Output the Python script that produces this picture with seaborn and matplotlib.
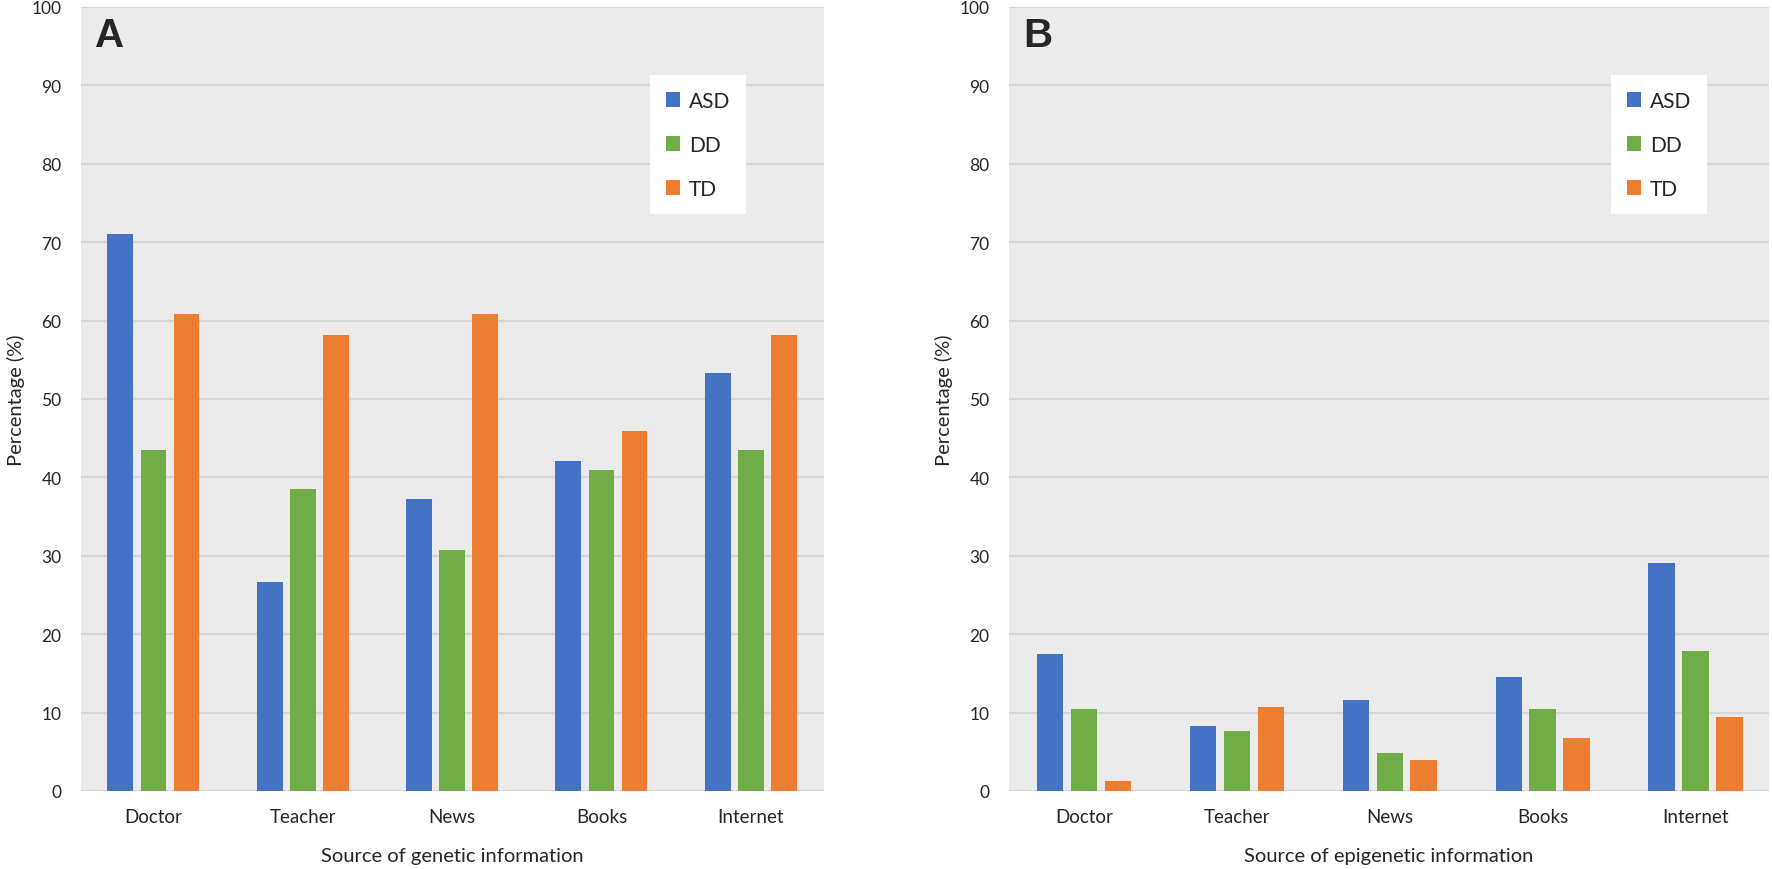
import pandas as pd
import matplotlib
matplotlib.use("Agg")
import matplotlib.pyplot as plt
import seaborn as sns

sources = ["Doctor", "Teacher", "News", "Books", "Internet"]
groups = ["ASD", "DD", "TD"]

# Panel A - genetic information (%)
genetic_asd = [71.0, 26.6, 37.3, 42.1, 53.3]
genetic_dd = [43.5, 38.5, 30.8, 40.9, 43.5]
genetic_td = [60.8, 58.1, 60.8, 45.9, 58.1]

# Panel B - epigenetic information (%)
epigen_asd = [17.5, 8.3, 11.6, 14.5, 29.1]
epigen_dd = [10.4, 7.7, 4.9, 10.4, 17.8]
epigen_td = [1.3, 10.7, 4.0, 6.8, 9.5]

colors = {"ASD": "#4472C4", "DD": "#70AD47", "TD": "#ED7D31"}


def to_long(asd, dd, td):
    rows = []
    for g, vals in zip(groups, [asd, dd, td]):
        for s, v in zip(sources, vals):
            rows.append({"source": s, "group": g, "pct": v})
    return pd.DataFrame(rows)


sns.set_theme(style="white")
plt.rcParams["font.family"] = ["Lato", "DejaVu Sans"]

W, H = 1772, 870
fig = plt.figure(figsize=(W / 100, H / 100), dpi=100)
ax_a = fig.add_axes([81 / W, (H - 792) / H, 743 / W, 784 / H])
ax_b = fig.add_axes([1009 / W, (H - 792) / H, 760 / W, 784 / H])

panels = [
    (ax_a, to_long(genetic_asd, genetic_dd, genetic_td), "A",
     "Source of genetic information", (-0.485, 4.49), 0.766),
    (ax_b, to_long(epigen_asd, epigen_dd, epigen_td), "B",
     "Source of epigenetic information", (-0.49, 4.48), 0.792),
]

for ax, df, letter, xlabel, xlim, leg_x in panels:
    ax.set_facecolor("#EBEBEB")
    ax.set_axisbelow(True)
    sns.barplot(data=df, x="source", y="pct", hue="group", palette=colors,
                width=0.665, gap=0.22, ax=ax, saturation=1, edgecolor="none")
    ax.set_xlim(*xlim)
    ax.set_ylim(0, 100)
    ax.set_yticks(range(0, 101, 10))
    ax.yaxis.grid(True, color="#D6D6D6", linewidth=1.6)
    ax.xaxis.grid(False)
    for sp in ax.spines.values():
        sp.set_visible(False)
    ax.tick_params(axis="y", length=0, labelsize=12.5, pad=14)
    ax.tick_params(axis="x", length=0, labelsize=13.5, pad=12)
    ax.set_xlabel(xlabel, fontsize=14.5, labelpad=16)
    ax.set_ylabel("Percentage (%)", fontsize=14.5, labelpad=5)
    ax.text(0.019, 0.988, letter, transform=ax.transAxes, fontsize=29,
            fontweight="bold", va="top", ha="left", family="Liberation Sans")
    leg = ax.legend(loc="upper left", bbox_to_anchor=(leg_x, 0.913), frameon=True,
                    fancybox=False, framealpha=1, edgecolor="white",
                    handlelength=0.67, handleheight=0.67, labelspacing=1.15,
                    borderpad=0.75, borderaxespad=0, handletextpad=0.45,
                    fontsize=15)
    leg.get_frame().set_linewidth(0)

fig.savefig("out.png", dpi=100, facecolor="white")
